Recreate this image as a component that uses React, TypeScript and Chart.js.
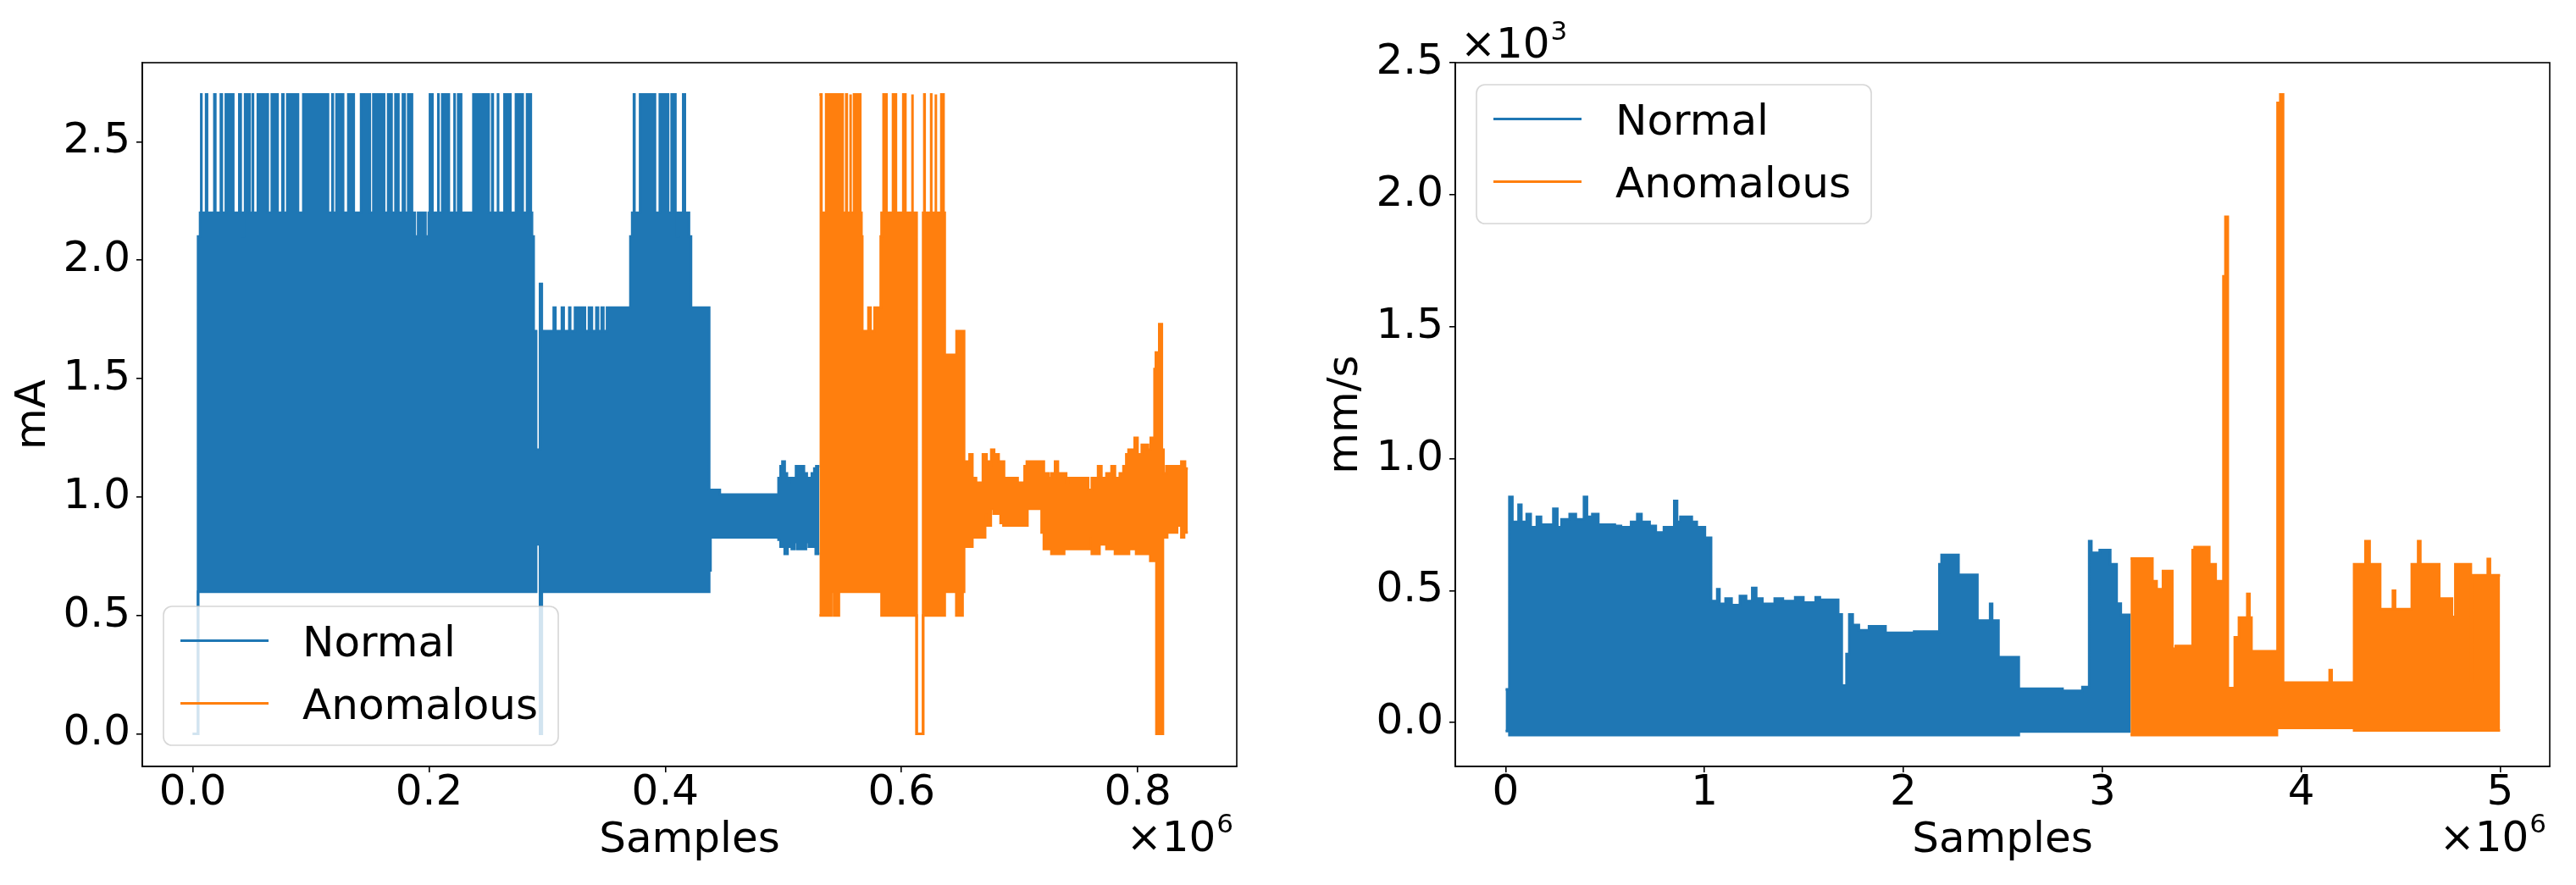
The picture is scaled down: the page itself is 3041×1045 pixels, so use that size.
import React, { useEffect, useRef } from 'react';
import { Chart, registerables } from 'chart.js';

Chart.register(...registerables);

const BLUE = '#1f77b4';
const ORANGE = '#ff7f0e';
const FONT = '"DejaVu Sans", "Liberation Sans", sans-serif';

const legendLabels = ['Normal', 'Anomalous'];
const xAxisTitle = 'Samples';
const currentAxisTitle = 'mA';
const velocityAxisTitle = 'mm/s';

// ---------- Left panel: current (mA) vs samples (x 10^6) ----------
const currentXTicks = [0, 0.2, 0.4, 0.6, 0.8];
const currentYTicks = [0, 0.5, 1.0, 1.5, 2.0, 2.5];

// upper / lower envelopes of the dense signal, [samples (x10^6), mA];
// each value holds from its x until the next x
const currentNormalUpper: [number, number][] = [
  [0.0, 0.0], [0.0045, 2.1], [0.0062, 2.2], [0.0072, 2.7], [0.0073, 2.2], [0.0113, 2.7], [0.0121, 2.2],
  [0.0183, 2.7], [0.0191, 2.2], [0.0238, 2.7], [0.0246, 2.2], [0.028, 2.7], [0.0343, 2.2],
  [0.0394, 2.7], [0.0406, 2.2], [0.0416, 2.1], [0.0433, 2.2], [0.0443, 2.7], [0.0482, 2.2], [0.0509, 2.7], [0.051, 2.2],
  [0.0551, 2.7], [0.0635, 2.2], [0.0669, 2.7], [0.0718, 2.2], [0.0759, 2.7], [0.0767, 2.2],
  [0.08, 2.7], [0.0891, 2.2], [0.0936, 2.7], [0.1145, 2.2], [0.1182, 2.7], [0.1186, 2.2],
  [0.1217, 2.7], [0.1273, 2.2], [0.1317, 2.7], [0.1363, 2.2], [0.1425, 2.7], [0.1499, 2.2],
  [0.1529, 2.7], [0.162, 2.2], [0.1654, 2.7], [0.1683, 2.2], [0.1716, 2.7], [0.1741, 2.2],
  [0.1779, 2.7], [0.1794, 2.2], [0.1824, 2.7], [0.1856, 2.2], [0.188, 2.1], [0.1908, 2.2],
  [0.197, 2.1], [0.1998, 2.2], [0.2008, 2.7], [0.2029, 2.2], [0.2079, 2.7], [0.208, 2.2], [0.2112, 2.7],
  [0.2168, 2.2], [0.2216, 2.7], [0.2217, 2.2], [0.2247, 2.7], [0.2272, 2.2], [0.2376, 2.7],
  [0.2505, 2.2], [0.2535, 2.7], [0.254, 2.2], [0.2584, 2.7], [0.2585, 2.2], [0.2639, 2.7],
  [0.2689, 2.2], [0.2736, 2.7], [0.2793, 2.2], [0.283, 2.7], [0.2862, 2.2], [0.2872, 2.1], [0.2886, 1.7],
  [0.2907, 1.2], [0.294, 1.9], [0.2955, 1.7], [0.3056, 1.8], [0.307, 1.7], [0.3125, 1.8],
  [0.314, 1.7], [0.3188, 1.8], [0.3195, 1.7], [0.3236, 1.8], [0.332, 1.7], [0.3354, 1.8],
  [0.3379, 1.7], [0.3417, 1.8], [0.3431, 1.7], [0.3462, 1.8], [0.3476, 1.7], [0.3507, 1.8],
  [0.3705, 2.1], [0.372, 2.2], [0.3735, 2.7], [0.3739, 2.2], [0.3787, 2.7], [0.3913, 2.2],
  [0.3954, 2.7], [0.4024, 2.2], [0.4054, 2.7], [0.4086, 2.2], [0.4096, 2.1], [0.4114, 2.2], [0.4152, 2.7],
  [0.4166, 2.2], [0.4201, 2.1], [0.4218, 1.8], [0.4372, 1.03], [0.4462, 1.01], [0.4959, 1.08],
  [0.4976, 1.13], [0.4992, 1.15], [0.5011, 1.1], [0.503, 1.08], [0.5071, 1.06], [0.5088, 1.08],
  [0.5107, 1.13], [0.5126, 1.1], [0.5145, 1.13], [0.5174, 1.1], [0.5198, 1.08], [0.5241, 1.1],
  [0.5262, 1.12], [0.5279, 1.13], [0.5305, 1.13],
];
const currentNormalLower: [number, number][] = [
  [0.0, 0.0], [0.0045, 0.6], [0.2907, 0.8], [0.294, 0.0], [0.2955, 0.6], [0.4372, 0.69],
  [0.4383, 0.83], [0.4959, 0.82], [0.4976, 0.79], [0.5011, 0.76], [0.5035, 0.79], [0.5071, 0.78],
  [0.5095, 0.81], [0.5119, 0.78], [0.5191, 0.81], [0.5215, 0.79], [0.5274, 0.76], [0.5305, 0.76],
];
const currentAnomUpper: [number, number][] = [
  [0.5305, 2.7], [0.5322, 2.2], [0.5362, 2.7], [0.5502, 2.2], [0.5532, 2.7], [0.5537, 2.2],
  [0.5569, 2.7], [0.5569, 2.2], [0.5598, 2.7], [0.5651, 2.2], [0.5661, 2.1], [0.5668, 1.7], [0.572, 1.8],
  [0.5738, 1.7], [0.5772, 1.8], [0.5824, 2.1], [0.5831, 2.2], [0.5848, 2.7], [0.5873, 2.2],
  [0.5928, 2.7], [0.5953, 2.2], [0.6015, 2.7], [0.6033, 2.2], [0.6093, 2.7], [0.6093, 2.2],
  [0.6128, 0.0], [0.6183, 2.2], [0.6193, 2.7], [0.6196, 2.2], [0.6251, 2.7], [0.6252, 2.2], [0.6291, 2.7],
  [0.6291, 2.2], [0.6337, 2.7], [0.6356, 2.2], [0.6366, 1.6], [0.6466, 1.7], [0.653, 1.15], [0.6564, 1.13],
  [0.6576, 1.18], [0.66, 1.08], [0.6631, 1.06], [0.6689, 1.18], [0.672, 1.15], [0.6744, 1.13],
  [0.676, 1.2], [0.6784, 1.18], [0.6822, 1.15], [0.6868, 1.08], [0.6983, 1.06], [0.7042, 1.13],
  [0.7061, 1.15], [0.7205, 1.08], [0.7222, 1.1], [0.7245, 1.08], [0.7269, 1.1], [0.73, 1.15],
  [0.7324, 1.08], [0.7341, 1.1], [0.7358, 1.08], [0.7377, 1.1], [0.7394, 1.06], [0.7413, 1.08],
  [0.758, 1.03], [0.7611, 1.08], [0.7664, 1.13], [0.7692, 1.08], [0.7735, 1.1], [0.7764, 1.08],
  [0.7778, 1.13], [0.7807, 1.08], [0.7848, 1.1], [0.7879, 1.13], [0.7903, 1.18], [0.7922, 1.2],
  [0.7974, 1.25], [0.7998, 1.18], [0.8034, 1.22], [0.8087, 1.2], [0.811, 1.25], [0.8142, 1.54],
  [0.8153, 1.61], [0.817, 1.54], [0.8182, 1.73], [0.8204, 1.2], [0.8218, 1.1], [0.8242, 1.13],
  [0.8369, 1.15], [0.84, 1.12], [0.8424, 1.12],
];
const currentAnomLower: [number, number][] = [
  [0.5305, 0.5], [0.5406, 0.6], [0.5429, 0.5], [0.547, 0.6], [0.5831, 0.5], [0.6128, 0.0],
  [0.6183, 0.5], [0.6366, 0.6], [0.6464, 0.5], [0.6517, 0.6], [0.653, 0.79], [0.66, 0.83],
  [0.6708, 0.93], [0.6727, 0.88], [0.6756, 0.95], [0.678, 0.93], [0.6839, 0.89], [0.6863, 0.88],
  [0.7066, 0.95], [0.7186, 0.85], [0.7205, 0.78], [0.7269, 0.76], [0.7377, 0.78], [0.7592, 0.83],
  [0.7611, 0.76], [0.7676, 0.8], [0.7735, 0.78], [0.7807, 0.76], [0.7926, 0.78], [0.7986, 0.76],
  [0.8106, 0.73], [0.8158, 0.0], [0.8213, 0.83], [0.8249, 0.85], [0.8333, 0.88], [0.8369, 0.83],
  [0.8392, 0.85], [0.8424, 0.85],
];

// ---------- Right panel: velocity (mm/s) vs samples (x 10^6) ----------
const velocityXTicks = [0, 1, 2, 3, 4, 5];
const velocityYTicks = [0, 500, 1000, 1500, 2000, 2500];

const velocityNormalUpper: [number, number][] = [
  [0.0, 126], [0.019, 855], [0.034, 760], [0.065, 825], [0.079, 760], [0.106, 790],
  [0.126, 740], [0.157, 780], [0.178, 750], [0.24, 810], [0.26, 740], [0.281, 770],
  [0.322, 790], [0.353, 770], [0.394, 855], [0.409, 780], [0.436, 790], [0.466, 750],
  [0.549, 745], [0.58, 740], [0.631, 760], [0.662, 790], [0.683, 760], [0.724, 745],
  [0.755, 720], [0.796, 740], [0.848, 840], [0.862, 760], [0.879, 780], [0.936, 760],
  [0.961, 740], [1.002, 700], [1.033, 460], [1.064, 505], [1.075, 450], [1.106, 470],
  [1.136, 445], [1.178, 480], [1.209, 460], [1.24, 510], [1.26, 470], [1.291, 450],
  [1.353, 470], [1.394, 460], [1.456, 475], [1.497, 455], [1.559, 475], [1.58, 465],
  [1.672, 410], [1.69, 140], [1.714, 260], [1.728, 410], [1.745, 370], [1.776, 350],
  [1.827, 365], [1.91, 340], [2.054, 345], [2.181, 600], [2.192, 635], [2.277, 560],
  [2.372, 387], [2.436, 450], [2.446, 387], [2.478, 248], [2.58, 128], [2.8, 120],
  [2.9, 135], [2.934, 687], [2.945, 643], [2.987, 654], [3.04, 600], [3.072, 451],
  [3.093, 408], [3.142, 408],
];
const velocityNormalLower: [number, number][] = [
  [0.0, -32], [0.019, -47], [2.58, -34], [3.142, -34],
];
const velocityAnomUpper: [number, number][] = [
  [3.142, 622], [3.252, 536], [3.273, 505], [3.305, 574], [3.352, 280], [3.369, 290],
  [3.454, 654], [3.464, 665], [3.538, 600], [3.57, 536], [3.609, 1691], [3.619, 1916],
  [3.631, 131], [3.666, 323], [3.687, 398], [3.729, 488], [3.74, 398], [3.75, 270],
  [3.881, 2348], [3.895, 2380], [3.909, 152], [4.143, 199], [4.153, 152], [4.266, 600],
  [4.323, 687], [4.344, 600], [4.397, 430], [4.461, 500], [4.472, 430], [4.556, 600],
  [4.588, 687], [4.599, 600], [4.694, 470], [4.758, 400], [4.775, 600], [4.853, 160],
  [4.864, 558], [4.938, 620], [4.949, 558], [5.0, 558],
];
const velocityAnomLower: [number, number][] = [
  [3.142, -47], [3.878, -20], [4.266, -30], [5.0, -30],
];

// ---------- helpers ----------
const toPts = (arr: [number, number][]) => arr.map(([x, y]) => ({ x, y }));

function band(label: string, color: string, upper: [number, number][], lower: [number, number][]) {
  const common = {
    borderColor: color,
    backgroundColor: color,
    borderWidth: 3,
    pointRadius: 0,
    pointHoverRadius: 0,
    // value of a point is held until the next point (matplotlib "post" style)
    stepped: 'before' as const,
    tension: 0,
  };
  return [
    { ...common, label, data: toPts(upper), fill: '+1' },
    { ...common, label: label + ' (lower)', data: toPts(lower), fill: false },
  ];
}

function drawOffsetText(ctx: CanvasRenderingContext2D, x: number, baseline: number, exp: string, align: 'left' | 'right') {
  ctx.textBaseline = 'alphabetic';
  ctx.textAlign = 'left';
  ctx.fillStyle = '#000';
  ctx.font = `50px ${FONT}`;
  const main = '\u00d710';
  const mw = ctx.measureText(main).width;
  ctx.font = `31px ${FONT}`;
  const sw = ctx.measureText(exp).width;
  const x0 = align === 'right' ? x - mw - sw - 1 : x;
  ctx.font = `50px ${FONT}`;
  ctx.fillText(main, x0, baseline);
  ctx.font = `31px ${FONT}`;
  ctx.fillText(exp, x0 + mw + 1, baseline - 21.6);
}

const decorPlugin = {
  id: 'decor',
  afterDatasetsDraw(chart: any, _args: any, opts: any) {
    const { ctx, chartArea: ca } = chart;
    ctx.save();
    // axes frame
    ctx.strokeStyle = '#000';
    ctx.lineWidth = 1.6;
    ctx.strokeRect(ca.left, ca.top, ca.right - ca.left, ca.bottom - ca.top);

    // legend
    ctx.font = `50px ${FONT}`;
    const textW = Math.max(...legendLabels.map((l) => ctx.measureText(l).width));
    const boxW = 164 + textW + 24;
    const boxH = 164;
    const bx = ca.left + 25;
    const by = opts.legendLower ? ca.bottom - 25 - boxH : ca.top + 26;
    ctx.beginPath();
    (ctx as any).roundRect(bx, by, boxW, boxH, 10);
    ctx.fillStyle = 'rgba(255,255,255,0.8)';
    ctx.fill();
    ctx.strokeStyle = 'rgba(204,204,204,0.8)';
    ctx.lineWidth = 1.6;
    ctx.stroke();
    const colors = [BLUE, ORANGE];
    legendLabels.forEach((lab, i) => {
      const cy = by + 40.5 + i * 74;
      ctx.strokeStyle = colors[i];
      ctx.lineWidth = 3;
      ctx.beginPath();
      ctx.moveTo(bx + 20, cy);
      ctx.lineTo(bx + 124, cy);
      ctx.stroke();
      ctx.fillStyle = '#000';
      ctx.textAlign = 'left';
      ctx.textBaseline = 'alphabetic';
      ctx.fillText(lab, bx + 164, cy + 18.2);
    });

    // scientific offset texts
    drawOffsetText(ctx, ca.right - 4, 1005, '6', 'right');
    if (opts.yExp) drawOffsetText(ctx, ca.left + 6, 68.3, opts.yExp, 'left');
    ctx.restore();
  },
};

function makeConfig(p: {
  datasets: any[];
  xMin: number; xMax: number; yMin: number; yMax: number;
  xTicks: number[]; yTicks: number[];
  xFmt: (v: number) => string; yFmt: (v: number) => string;
  yTitle: string; yTitlePad: number; yWidth: number; padRight: number;
  legendLower: boolean; yExp: string | null;
}) {
  const tickFont = { family: FONT, size: 50, lineHeight: 1 };
  const titleFont = { family: FONT, size: 50, lineHeight: 1.2 };
  const grid = {
    display: true,
    drawOnChartArea: false,
    drawTicks: true,
    tickLength: 7,
    tickWidth: 1.6,
    tickColor: '#000',
    color: '#000',
    lineWidth: 1.6,
  };
  const border = { display: true, color: '#000', width: 1.6 };
  return {
    type: 'line' as const,
    data: { datasets: p.datasets },
    options: {
      responsive: false,
      maintainAspectRatio: false,
      animation: false as const,
      devicePixelRatio: 1,
      events: [] as any[],
      layout: { padding: { left: 0, top: 74, right: p.padRight, bottom: 0 } },
      plugins: {
        legend: { display: false },
        tooltip: { enabled: false },
        decor: { legendLower: p.legendLower, yExp: p.yExp },
      },
      scales: {
        x: {
          type: 'linear' as const,
          min: p.xMin,
          max: p.xMax,
          afterFit: (s: any) => { s.height = 140; },
          afterBuildTicks: (s: any) => { s.ticks = p.xTicks.map((v) => ({ value: v })); },
          ticks: {
            font: tickFont, color: '#000', padding: 0, maxRotation: 0, autoSkip: false,
            callback: (v: any) => p.xFmt(Number(v)),
          },
          grid, border,
          title: { display: true, text: xAxisTitle, color: '#000', font: titleFont, padding: { top: 0, bottom: 22 } },
        },
        y: {
          type: 'linear' as const,
          min: p.yMin,
          max: p.yMax,
          afterFit: (s: any) => { s.width = p.yWidth; },
          afterBuildTicks: (s: any) => { s.ticks = p.yTicks.map((v) => ({ value: v })); },
          ticks: {
            font: tickFont, color: '#000', padding: 7, autoSkip: false,
            callback: (v: any) => p.yFmt(Number(v)),
          },
          grid, border,
          title: { display: true, text: p.yTitle, color: '#000', font: titleFont, padding: { top: p.yTitlePad, bottom: 0 } },
        },
      },
    },
    plugins: [decorPlugin],
  };
}

export default function App() {
  const leftRef = useRef<HTMLCanvasElement>(null);
  const rightRef = useRef<HTMLCanvasElement>(null);

  useEffect(() => {
    const left = new Chart(leftRef.current as HTMLCanvasElement, makeConfig({
      datasets: [
        ...band(legendLabels[1], ORANGE, currentAnomUpper, currentAnomLower),
        ...band(legendLabels[0], BLUE, currentNormalUpper, currentNormalLower),
      ],
      xMin: -0.0427, xMax: 0.8838, yMin: -0.1378, yMax: 2.834,
      xTicks: currentXTicks, yTicks: currentYTicks,
      xFmt: (v) => v.toFixed(1), yFmt: (v) => v.toFixed(1),
      yTitle: currentAxisTitle, yTitlePad: 10, yWidth: 168, padRight: 60,
      legendLower: true, yExp: null,
    }) as any);
    const right = new Chart(rightRef.current as HTMLCanvasElement, makeConfig({
      datasets: [
        ...band(legendLabels[1], ORANGE, velocityAnomUpper, velocityAnomLower),
        ...band(legendLabels[0], BLUE, velocityNormalUpper, velocityNormalLower),
      ],
      xMin: -0.253, xMax: 5.2496, yMin: -166, yMax: 2500,
      xTicks: velocityXTicks, yTicks: velocityYTicks,
      xFmt: (v) => String(Math.round(v)), yFmt: (v) => (v / 1000).toFixed(1),
      yTitle: velocityAxisTitle, yTitlePad: 39.4, yWidth: 198, padRight: 31,
      legendLower: false, yExp: '3',
    }) as any);
    return () => {
      left.destroy();
      right.destroy();
    };
  }, []);

  return (
    <div style={{ position: 'absolute', left: 0, top: 0, width: 3041, height: 1045, background: '#fff', overflow: 'hidden' }}>
      <canvas ref={leftRef} width={1520} height={1045}
        style={{ position: 'absolute', left: 0, top: 0, width: 1520, height: 1045 }} />
      <canvas ref={rightRef} width={1521} height={1045}
        style={{ position: 'absolute', left: 1520, top: 0, width: 1521, height: 1045 }} />
    </div>
  );
}
